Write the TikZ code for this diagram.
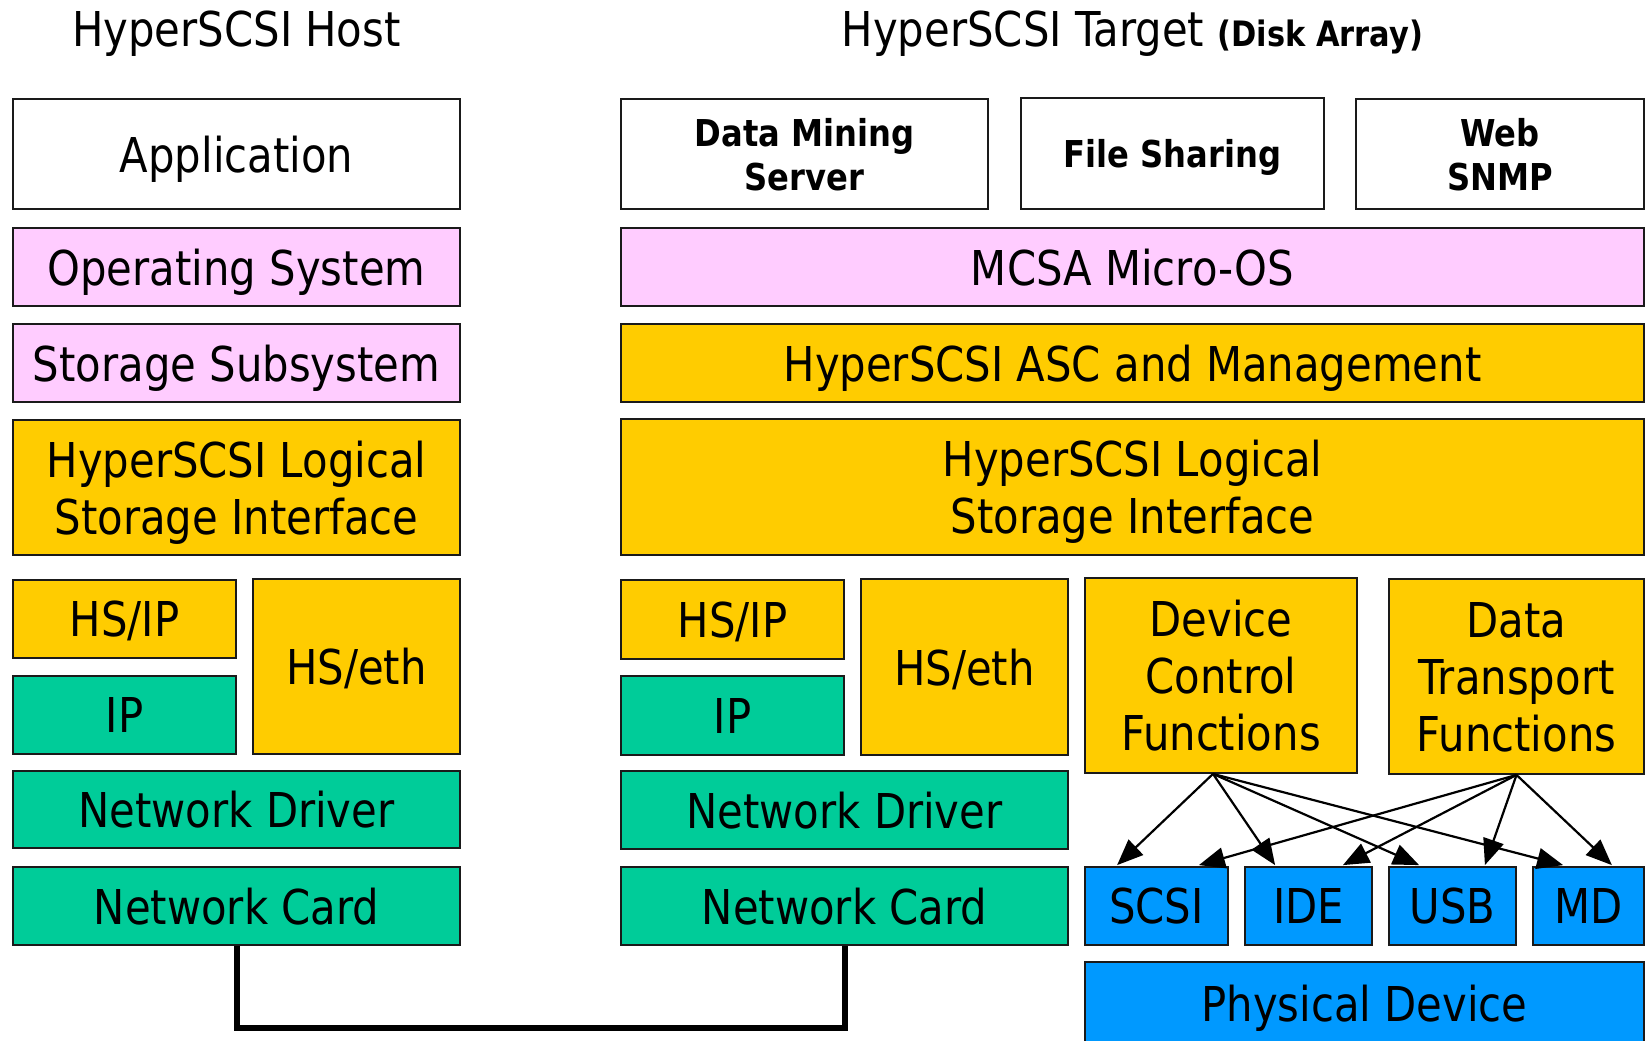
\documentclass[tikz,border=0pt]{standalone}
\usepackage{fontspec}
\setmainfont{DejaVu Sans}[FakeStretch=0.87]
\usetikzlibrary{arrows.meta,calc}

\definecolor{oslayer}{HTML}{FFCCFF}
\definecolor{hslayer}{HTML}{FFCC00}
\definecolor{netlayer}{HTML}{00CC99}
\definecolor{devlayer}{HTML}{0099FF}
\definecolor{boxedge}{HTML}{1A1A1A}

% \stackbox{style}{name}{x1}{y1}{x2}{y2}{text}: a layer box between two corners
\newcommand{\stackbox}[7]{%
  \node[#1, minimum width={(#5-#3)*0.5pt}, minimum height={(#6-#4)*0.5pt}]
    (#2) at ({(#3+#5)/2},{(#4+#6)/2}) {#7};}

\begin{document}
\begin{tikzpicture}[x=0.5pt,y=-0.5pt,
  stack/.style={draw=boxedge, line width=0.9pt, inner sep=0pt, align=center,
    text depth=0pt, font=\fontsize{24pt}{28.5pt}\selectfont},
  appbox/.style={stack, fill=white},
  svcbox/.style={stack, fill=white, font=\fontsize{18.5pt}{22pt}\selectfont\bfseries},
  osbox/.style={stack, fill=oslayer},
  hsbox/.style={stack, fill=hslayer},
  netbox/.style={stack, fill=netlayer},
  devbox/.style={stack, fill=devlayer},
  coltitle/.style={anchor=base, inner sep=0pt, font=\fontsize{24pt}{28pt}\selectfont},
  cable/.style={line width=3pt, line join=miter},
  ctl/.style={line width=1.1pt, -{Triangle[length=13pt,width=10.5pt]}}
]
\useasboundingbox (0,0) rectangle (1650,1040);

% column headings
\node[coltitle] (hosttitle) at (236.5,46) {HyperSCSI Host};
\node[coltitle] (targettitle) at (1132.5,46)
  {HyperSCSI Target {\fontsize{17.5pt}{20pt}\selectfont\bfseries (Disk Array)}};

% host stack
\stackbox{appbox}{happ}{13}{99}{460}{209}{Application}
\stackbox{osbox}{hos}{13}{228}{460}{306}{Operating System}
\stackbox{osbox}{hstor}{13}{324}{460}{402}{Storage Subsystem}
\stackbox{hsbox}{hlsi}{13}{420}{460}{555}{HyperSCSI Logical\\Storage Interface}
\stackbox{hsbox}{hhsip}{13}{580}{236}{658}{HS/IP}
\stackbox{netbox}{hip}{13}{676}{236}{754}{IP}
\stackbox{hsbox}{hhseth}{253}{579}{460}{754}{HS/eth}
\stackbox{netbox}{hnd}{13}{771}{460}{848}{Network Driver}
\stackbox{netbox}{hnc}{13}{867}{460}{945}{Network Card}

% target stack
\stackbox{svcbox}{tdms}{621}{99}{988}{209}{Data Mining\\Server}
\stackbox{svcbox}{tfs}{1021}{98}{1324}{209}{File Sharing}
\stackbox{svcbox}{tweb}{1356}{99}{1644}{209}{Web\\SNMP}
\stackbox{osbox}{tos}{621}{228}{1644}{306}{MCSA Micro-OS}
\stackbox{hsbox}{tasc}{621}{324}{1644}{402}{HyperSCSI ASC and Management}
\stackbox{hsbox}{tlsi}{621}{419}{1644}{555}{HyperSCSI Logical\\Storage Interface}
\stackbox{hsbox}{thsip}{621}{580}{844}{659}{HS/IP}
\stackbox{netbox}{tip}{621}{676}{844}{755}{IP}
\stackbox{hsbox}{thseth}{861}{579}{1068}{755}{HS/eth}
\stackbox{hsbox}{dcf}{1085}{578}{1357}{773}{Device\\Control\\Functions}
\stackbox{hsbox}{dtf}{1389}{579}{1644}{774}{Data\\Transport\\Functions}
\stackbox{netbox}{tnd}{621}{771}{1068}{849}{Network Driver}
\stackbox{netbox}{tnc}{621}{867}{1068}{945}{Network Card}
\stackbox{devbox}{scsi}{1085}{867}{1228}{945}{SCSI}
\stackbox{devbox}{ide}{1245}{867}{1372}{945}{IDE}
\stackbox{devbox}{usb}{1389}{867}{1516}{945}{USB}
\stackbox{devbox}{md}{1533}{867}{1644}{945}{MD}
\stackbox{devbox}{phys}{1085}{962}{1644}{1044}{Physical Device}

% network cable between the two cards
\draw[cable] (hnc.south) -- ++(0,82) -| (tnc.south);

% control and data paths to the device drivers
\coordinate (dcfout) at ($(dcf.south)+(-8,0)$);
\coordinate (dtfout) at (dtf.south);
\draw[ctl] (dcfout) -- ($(scsi.north west)+(33,-1)$);
\draw[ctl] (dcfout) -- ($(ide.north west)+(31,-1)$);
\draw[ctl] (dcfout) -- ($(usb.north west)+(31,-1)$);
\draw[ctl] (dcfout) -- ($(md.north west)+(31,-1)$);
\draw[ctl] (dtfout) -- ($(scsi.north east)+(-30,-1)$);
\draw[ctl] (dtfout) -- ($(ide.north east)+(-30,-1)$);
\draw[ctl] (dtfout) -- ($(usb.north east)+(-32,-1)$);
\draw[ctl] (dtfout) -- ($(md.north east)+(-33,-1)$);
\end{tikzpicture}
\end{document}
